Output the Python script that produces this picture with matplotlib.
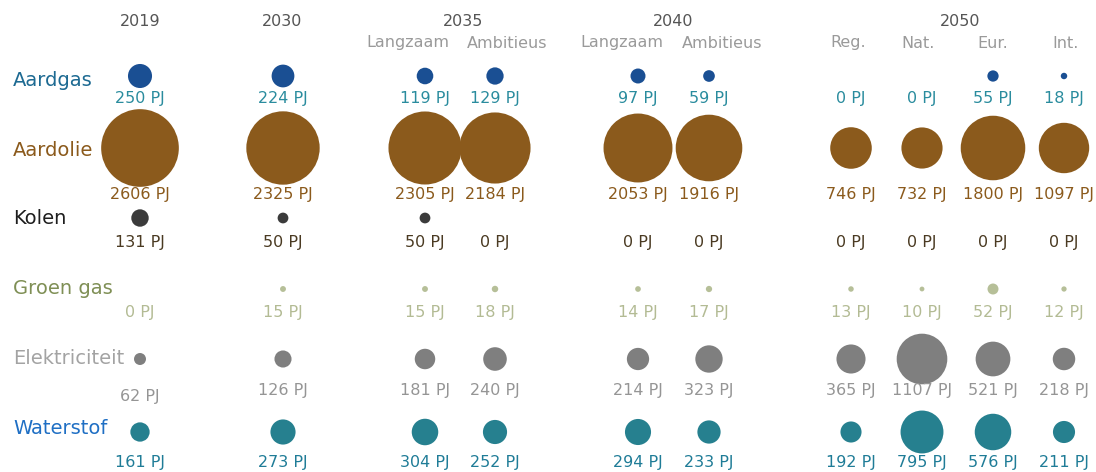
import numpy as np
import matplotlib.pyplot as plt

# data (PJ) per carrier, columns: 2019, 2030, 2035 L/A, 2040 L/A, 2050 Reg/Nat/Eur/Int
aardgas = [250, 224, 119, 129, 97, 59, 0, 0, 55, 18]
aardolie = [2606, 2325, 2305, 2184, 2053, 1916, 746, 732, 1800, 1097]
kolen = [131, 50, 50, 0, 0, 0, 0, 0, 0, 0]
groen_gas = [0, 15, 15, 18, 14, 17, 13, 10, 52, 12]
elektriciteit = [62, 126, 181, 240, 214, 323, 365, 1107, 521, 218]
waterstof = [161, 273, 304, 252, 294, 233, 192, 795, 576, 211]

rows = ["Aardgas", "Aardolie", "Kolen", "Groen gas", "Elektriciteit", "Waterstof"]
values = [aardgas, aardolie, kolen, groen_gas, elektriciteit, waterstof]

years = ["2019", "2030", "2035", "2040", "2050"]
sub_labels = ["Langzaam", "Ambitieus", "Langzaam", "Ambitieus",
              "Reg.", "Nat.", "Eur.", "Int."]

# layout (pixel coordinates)
col_x = [140, 283, 425, 495, 638, 709, 851, 922, 993, 1064]
year_x = [140, 282, 463, 673, 960]
sub_x = [408, 507, 622, 722, 848, 918, 993, 1066]
row_y = [76, 148, 218, 289, 359, 432]
name_y = [81, 151, 219, 289, 358, 428]
label_y = [98, 195, 243, 313, 391, 463]

name_colors = ["#1d6a92", "#8b5a1c", "#1e1e1e", "#7f8f55", "#a3a3a3", "#1f6fc4"]
dot_colors = ["#1a4f93", "#8b5a1c", "#3b3b3b", "#b6bf98", "#7f7f7f", "#26808f"]
val_colors = ["#2a8c9e", "#8b5a1c", "#4a3a22", "#b3bb94", "#959595", "#1f7c97"]

plt.rcParams['font.family'] = ['DejaVu Sans']

fig = plt.figure(figsize=(10.96, 4.72), dpi=100)
ax = fig.add_axes([0, 0, 1, 1])
ax.set_xlim(0, 1096)
ax.set_ylim(472, 0)
ax.axis("off")

for x, yr in zip(year_x, years):
    ax.text(x, 22, yr, ha="center", va="center", fontsize=11.5, color="#555555")
for x, s in zip(sub_x, sub_labels):
    ax.text(x, 43, s, ha="center", va="center", fontsize=11.5, color="#9a9a9a")

for i, (name, vals) in enumerate(zip(rows, values)):
    ax.text(13, name_y[i], name, ha="left", va="center", fontsize=14,
            color=name_colors[i])
    v = np.array(vals, dtype=float)
    ax.scatter(col_x, [row_y[i]] * len(col_x), s=v * 1.2, color=dot_colors[i],
               linewidths=0, zorder=2)
    for j, val in enumerate(vals):
        ly = label_y[i]
        if name == "Elektriciteit" and j == 0:
            ly += 6
        ax.text(col_x[j], ly, f"{val} PJ", ha="center", va="center",
                fontsize=11.5, color=val_colors[i])

fig.savefig("out.png", dpi=100)
